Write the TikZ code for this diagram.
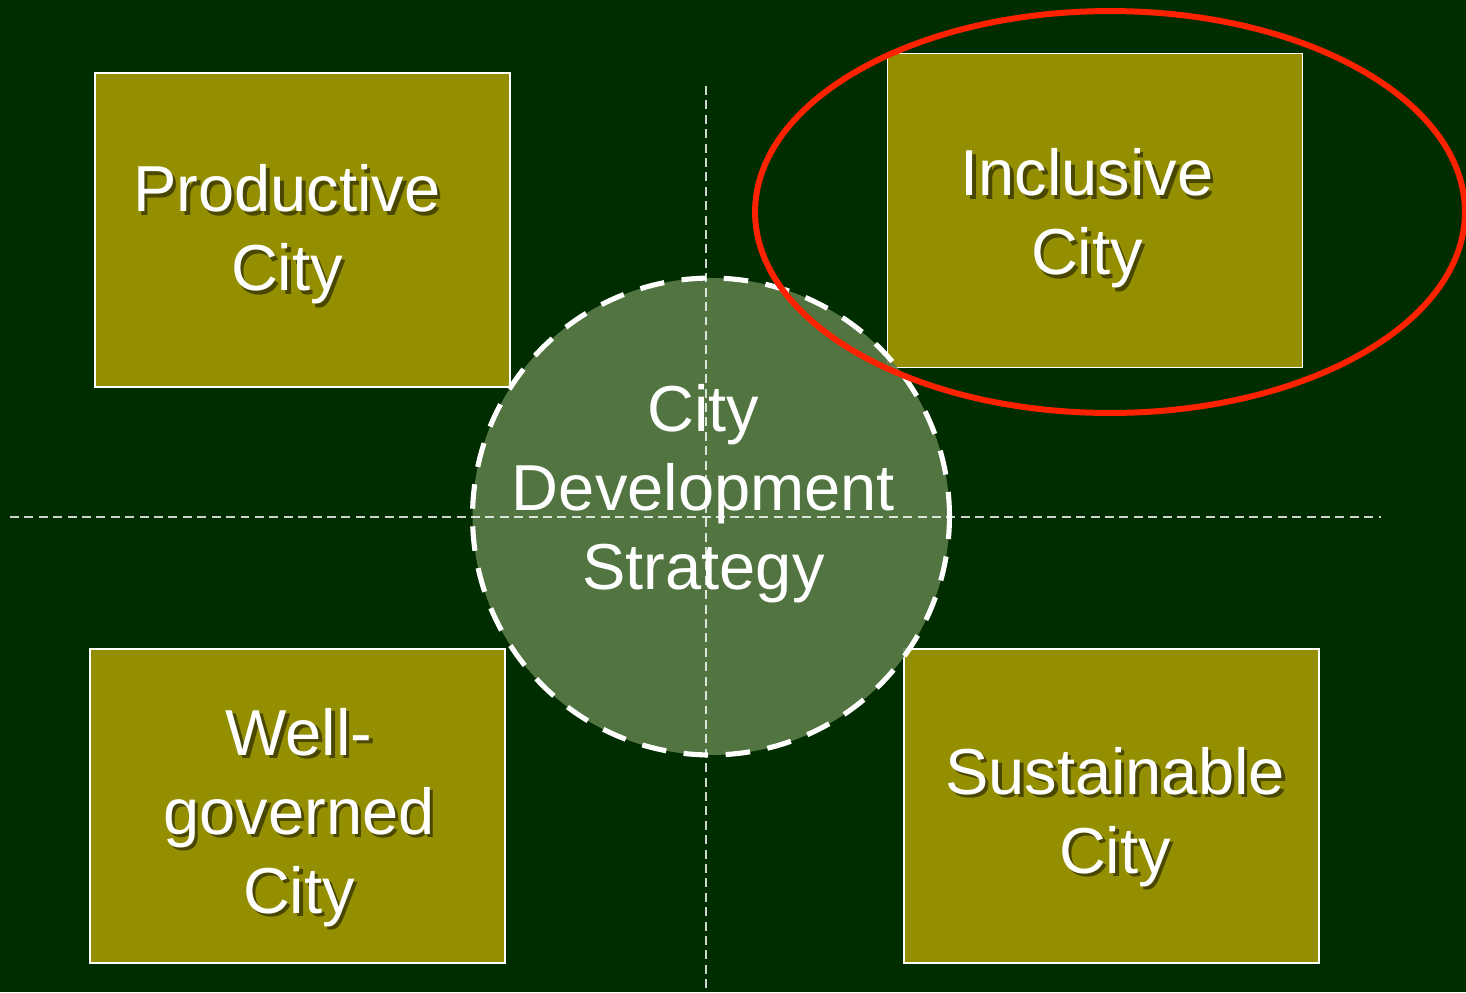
\documentclass[tikz,border=0pt]{standalone}
\usepackage{fontspec}
\setmainfont{Liberation Sans}
\usetikzlibrary{positioning,calc}

\definecolor{bgdark}{RGB}{0,45,0}
\definecolor{olivebox}{RGB}{148,143,0}
\definecolor{hubgreen}{RGB}{90,124,72}
\definecolor{ringred}{RGB}{255,34,0}

\begin{document}
\begin{tikzpicture}[
    x=0.02cm, y=-0.02cm,
    quad/.style={rectangle, draw=white, line width=0.9pt, fill=olivebox, minimum width=8.3cm, minimum height=6.28cm, inner sep=0pt},
    citytext/.style={text=white, align=center, inner sep=0pt, font=\fontsize{37}{45}\selectfont},
    textshadow/.style={citytext, text=black, text opacity=0.5},
    hub/.style={circle, fill=hubgreen, fill opacity=0.9, draw=white, line width=2.9pt, dash pattern=on 14pt off 10pt, minimum size=9.54cm, inner sep=0pt},
    axis/.style={white, draw opacity=0.8, line width=1.1pt, dash pattern=on 5.1pt off 3.1pt},
]
    % Canvas
    \useasboundingbox (0,0) rectangle (1466,992);
    \clip (0,0) rectangle (1466,992);
    \fill[bgdark] (0,0) rectangle (1466,992);

    % Four city boxes
    \node[quad] (prod) at (302.5,230) {};
    \node[quad] (incl) at (1095,210.5) {};
    \node[quad] (well) at (297.5,806) {};
    \node[quad] (sust) at (1111.5,806) {};

    % Centre circle
    \node[hub] (cds) at (711,516.5) {};

    % Axes
    \coordinate (axtop) at (706,86);
    \coordinate (axbot) at (706,992);
    \coordinate (axleft) at (10,517);
    \coordinate (axright) at (1381,517);
    \draw[axis] (axtop) -- (axbot);
    \draw[axis] (axleft) -- (axright);

    % Box labels
    \node[textshadow] (prod-sh) at (290.5,238) {Productive\\City};
    \node[citytext] (prod-txt) at (287,234.5) {Productive\\City};
    \node[textshadow] (incl-sh) at (1090.5,222) {Inclusive\\City};
    \node[citytext] (incl-txt) at (1087,218.5) {Inclusive\\City};
    \node[textshadow] (well-sh) at (302.5,821) {Well-\\governed\\City};
    \node[citytext] (well-txt) at (299,817.5) {Well-\\governed\\City};
    \node[textshadow] (sust-sh) at (1118.5,820.5) {Sustainable\\City};
    \node[citytext] (sust-txt) at (1115,817) {Sustainable\\City};

    % Centre label
    \node[citytext] (cds-txt) at (703.5,494) {City\\Development\\Strategy};

    % Highlight
    \draw[ringred, line width=3.4pt] (1110,212) ellipse [x radius=7.1cm, y radius=4.02cm];
\end{tikzpicture}
\end{document}
